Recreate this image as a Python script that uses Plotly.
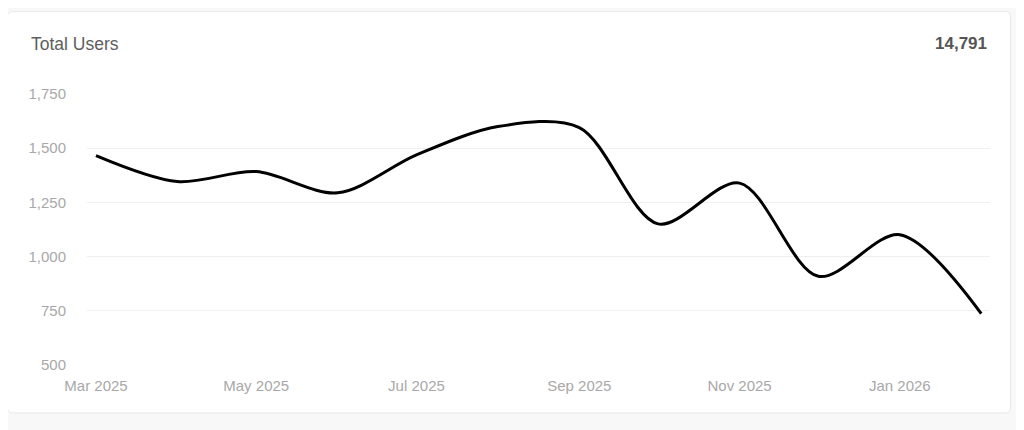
import plotly.graph_objects as go

# ---- data ----
months = ["2025-03-01", "2025-04-01", "2025-05-01", "2025-06-01", "2025-07-01", "2025-08-01",
          "2025-09-01", "2025-10-01", "2025-11-01", "2025-12-01", "2026-01-01", "2026-02-01"]
users = [1466, 1346, 1392, 1294, 1469, 1600, 1595, 1151, 1339, 909, 1101, 737]
y_ticks = [500, 750, 1000, 1250, 1500, 1750]
title_text = "Total Users"
total_text = "14,791"

W, H = 1024, 430
OFF = 8  # page body offset
L, R, T, B = 87 - OFF, 990 - OFF, 94 - OFF, 365.5 - OFF


def fx(px):
    return (px - OFF - L) / (R - L)


def fy(py):
    return (B - (py - OFF)) / (B - T)


fig = go.Figure()
fig.add_trace(go.Scatter(
    x=months, y=users, mode="lines",
    line=dict(color="#000000", width=3, shape="spline", smoothing=0.9),
    hoverinfo="skip", showlegend=False,
))

# card with rounded corners (coordinates in reference-image pixels)
cx0, cx1, cy0, cy1, r = 7.5, 1010.5, 11.5, 413.5, 5
path = (
    f"M {fx(cx0 + r)} {fy(cy0)} L {fx(cx1 - r)} {fy(cy0)} "
    f"Q {fx(cx1)} {fy(cy0)} {fx(cx1)} {fy(cy0 + r)} "
    f"L {fx(cx1)} {fy(cy1 - r)} Q {fx(cx1)} {fy(cy1)} {fx(cx1 - r)} {fy(cy1)} "
    f"L {fx(cx0 + r)} {fy(cy1)} Q {fx(cx0)} {fy(cy1)} {fx(cx0)} {fy(cy1 - r)} "
    f"L {fx(cx0)} {fy(cy0 + r)} Q {fx(cx0)} {fy(cy0)} {fx(cx0 + r)} {fy(cy0)} Z"
)
fig.add_shape(type="path", path=path, xref="paper", yref="paper",
              fillcolor="#ffffff", line=dict(color="#e8e8e8", width=1), layer="below")

fig.add_annotation(text=title_text, xref="paper", yref="paper", x=fx(29), y=fy(43.5),
                   xanchor="left", yanchor="middle", showarrow=False,
                   font=dict(family="Liberation Sans, Arial", size=17.5, color="#5e5e5e"))
fig.add_annotation(text="<b>" + total_text + "</b>", xref="paper", yref="paper", x=fx(988.5), y=fy(43.5),
                   xanchor="right", yanchor="middle", showarrow=False,
                   font=dict(family="Liberation Sans, Arial", size=17, color="#555555"))

fig.update_layout(
    width=W, height=H,
    margin=dict(l=L, r=W - R, t=T, b=H - B, pad=0),
    paper_bgcolor="#f8f8f8", plot_bgcolor="rgba(0,0,0,0)",
    font=dict(family="Liberation Sans, Arial", size=15, color="#a8a8a8"),
    xaxis=dict(
        type="date", range=["2025-02-25 14:00", "2026-02-04 08:00"],
        tick0="2025-03-01", dtick="M2", tickformat="%b %Y",
        showgrid=False, zeroline=False, showline=False,
        ticks="outside", ticklen=7, tickcolor="rgba(0,0,0,0)",
        tickfont=dict(size=15, color="#a8a8a8"),
    ),
    yaxis=dict(
        range=[500, 1750], tickvals=y_ticks, tickformat=",d",
        showgrid=True, gridcolor="#f0f0f0", gridwidth=1, zeroline=False, showline=False,
        ticks="outside", ticklen=17, tickcolor="rgba(0,0,0,0)",
        tickfont=dict(size=15, color="#a8a8a8"),
    ),
)

fig.write_html("out.html", config={"displayModeBar": False})
